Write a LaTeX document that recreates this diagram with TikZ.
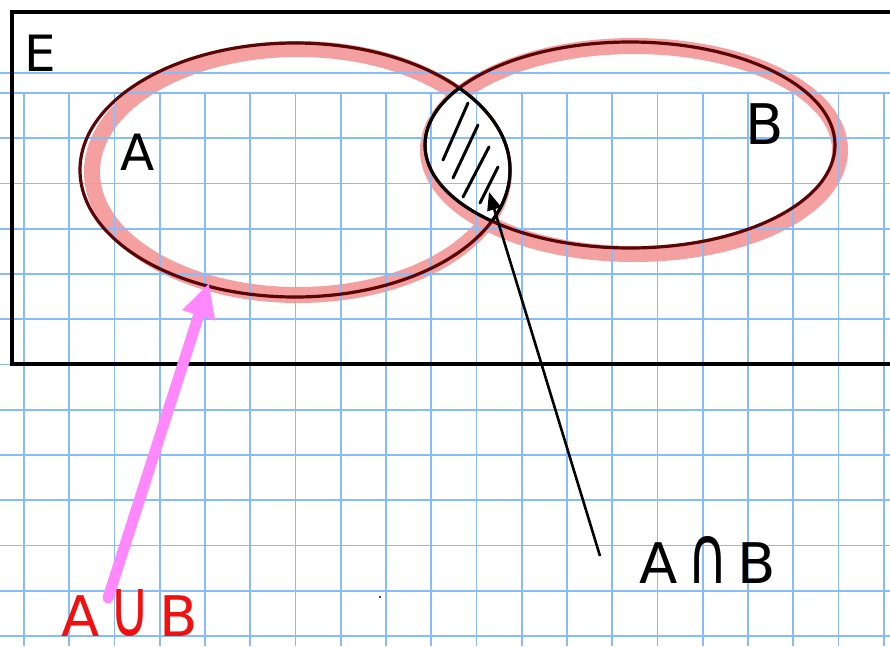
\documentclass[tikz,border=0pt]{standalone}
\usepackage{fontspec}
\usepackage{graphicx}
\setmainfont{DejaVu Sans}
\usetikzlibrary{arrows.meta}
\definecolor{gridblue}{HTML}{86BCFA}
\definecolor{halo}{HTML}{F5A0A0}
\definecolor{rim}{HTML}{5A0606}
\definecolor{pinkarrow}{HTML}{FF88FF}
\definecolor{redink}{HTML}{F01010}
\newcommand{\tallop}[1]{\scalebox{1}[1.45]{#1}}
\tikzset{
  gridline/.style={gridblue, line width=1.6pt},
  frame/.style={black, line width=3.2pt},
  halopen/.style={halo, line width=16pt},
  rimpen/.style={rim, line width=3.2pt},
  lenspen/.style={black, line width=3pt},
  hatch/.style={black, line width=3pt, line cap=round},
  lbl/.style={inner sep=0pt, font=\fontsize{50}{50}\selectfont},
  blackarrow/.style={black, line width=2.6pt, -{Triangle[length=18pt,width=14pt]}},
  pinkarr/.style={pinkarrow, line width=11pt, line cap=round, -{Triangle[length=34pt,width=32pt]}}
}
\begin{document}
\begin{tikzpicture}[x=1pt,y=-1pt]
\useasboundingbox (0,0) rectangle (890,646);
\fill[white] (0,0) rectangle (890,646);
% halos
\draw[halopen] (298,172) ellipse [x radius=206, y radius=123];
\draw[halopen] (634,150) ellipse [x radius=206, y radius=104];
% clear the lens
\begin{scope}
  \clip (295,170) ellipse [x radius=215, y radius=127];
  \fill[white] (630,145) ellipse [x radius=205, y radius=103];
\end{scope}
% grid
\foreach \i in {0,...,19} \draw[gridline] ({24+45.25*\i},93) -- ({24+45.25*\i},646);
\foreach \j in {0,...,12} \draw[gridline] (0,{93+45.25*\j}) -- (890,{93+45.25*\j});
\draw[gridline] (0,73) -- (890,73);
% frame
\draw[frame] (12,12) rectangle (900,364);
% ellipses
\draw[rimpen] (295,170) ellipse [x radius=215, y radius=127];
\draw[rimpen] (630,145) ellipse [x radius=205, y radius=103];
\begin{scope}
  \clip (295,170) ellipse [x radius=215, y radius=127];
  \draw[lenspen] (630,145) ellipse [x radius=205, y radius=103];
\end{scope}
\begin{scope}
  \clip (630,145) ellipse [x radius=205, y radius=103];
  \draw[lenspen] (295,170) ellipse [x radius=215, y radius=127];
\end{scope}
% hatching
\draw[hatch] (468,103) -- (443,160);
\draw[hatch] (478,125) -- (453,178);
\draw[hatch] (489,147) -- (463,197);
\draw[hatch] (498,167) -- (480,203);
% labels
\node[lbl] (E) at (40,53) {E};
\node[lbl] (A) at (138,152) {A};
\node[lbl, font=\fontsize{56}{56}\selectfont] (B) at (765,124) {B};
\node[lbl, font=\fontsize{56}{56}\selectfont] (AnB) at (708,560) {A\,\tallop{∩}\,B};
\node[lbl, redink, font=\fontsize{56}{56}\selectfont] (AuB) at (130,613) {A\,\tallop{∪}\,B};
% connectors
\coordinate (inTail) at (600,556);
\coordinate (lensTip) at (489,192);
\draw[blackarrow] (inTail) -- (lensTip);
\coordinate (uTail) at (108,598);
\coordinate (uTip) at (209,283);
\draw[pinkarr] (uTail) -- (uTip);
% stray dot
\fill[black] (380,597) circle (1.2);
\end{tikzpicture}
\end{document}
